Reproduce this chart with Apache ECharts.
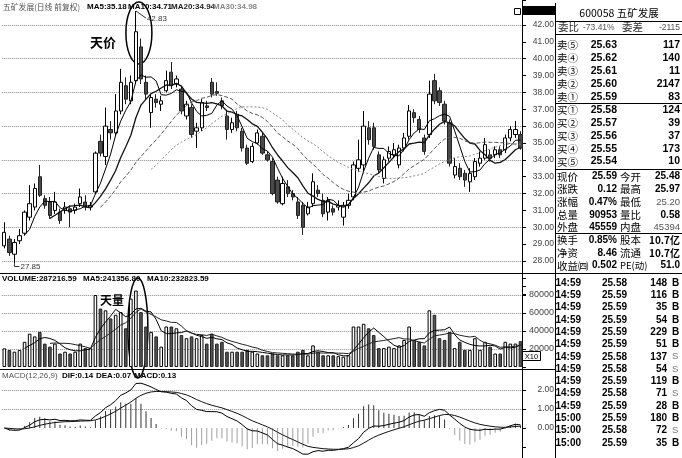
<!DOCTYPE html>
<html><head><meta charset="utf-8">
<script src="https://cdn.jsdelivr.net/npm/echarts@6/dist/echarts.min.js"></script>
<style>html,body{margin:0;padding:0;background:#fff}#c{width:682px;height:458px}</style>
</head><body><div id="c"></div>
<script>
// ---------- data ----------
const opens  = [28.9,29.3,28.4,29.2,29.65,30.6,31.2,33.0,31.7,31.5,31.0,30.9,31.0,31.1,31.0,31.4,31.5,31.2,32.1,35.1,34.2,35.8,35.6,36.9,38.4,37.5,38.7,40.7,38.6,36.8,37.6,37.3,38.1,39.2,38.5,38.2,36.6,37.1,35.7,35.9,37.2,38.6,38.05,37.5,36.6,35.8,36.7,35.7,34.7,33.9,35.0,35.4,34.3,33.9,32.8,31.4,32.4,32.0,31.5,31.3,30.8,31.4,32.2,31.6,30.9,31.1,31.2,30.6,31.3,31.8,33.5,33.7,35.9,35.9,34.3,32.9,34.1,34.3,33.7,34.7,35.4,36.8,36.4,35.3,35.5,38.7,38.1,37.3,36.2,33.1,33.5,33.2,32.7,33.0,33.8,34.1,34.3,34.3,34.6,34.6,35.3,35.5,35.5];
const closes = [29.7,28.5,29.1,29.5,30.9,31.4,32.3,31.9,31.3,30.7,31.5,30.4,31.2,30.9,31.2,31.8,31.2,31.3,34.4,34.4,36.0,35.6,36.9,38.6,37.6,38.6,41.6,38.8,37.9,37.7,37.4,37.5,38.7,38.4,38.8,36.9,37.3,35.5,35.9,37.4,37.1,37.9,37.95,37.2,35.8,36.2,35.9,34.7,33.8,34.8,35.6,34.4,34.0,32.0,31.5,32.6,32.0,31.8,30.7,30.0,31.2,32.7,32.0,30.8,31.6,30.9,31.3,31.3,31.6,33.7,34.0,36.0,35.2,34.8,33.4,34.0,34.5,34.6,34.7,35.3,36.9,36.5,35.8,34.5,37.9,37.5,37.4,36.3,33.8,33.6,33.0,32.8,33.2,33.9,34.1,34.9,34.1,34.6,34.3,35.3,35.8,35.8,34.7];
const highs  = [30.3,29.5,29.3,29.9,31.0,32.5,32.6,33.7,31.9,31.8,32.1,31.1,31.5,31.3,31.4,32.3,31.9,31.5,34.5,35.5,37.1,36.3,37.9,39.4,38.9,39.0,42.83,41.2,39.0,37.9,37.9,37.8,39.3,39.8,39.0,38.4,37.5,37.3,36.2,37.6,37.5,38.85,38.6,37.7,36.9,36.5,36.9,35.9,34.9,35.0,35.8,35.6,34.5,34.1,33.0,33.0,32.8,32.2,31.8,31.5,31.5,33.2,32.5,32.0,31.8,31.3,31.6,31.5,32.0,33.9,35.2,36.9,36.3,36.2,34.5,34.2,34.8,35.0,34.9,35.6,37.25,37.0,36.6,35.5,38.7,39.1,38.3,37.5,36.4,34.1,33.8,33.4,33.5,34.1,34.5,35.3,34.6,34.8,34.8,35.5,36.0,36.3,35.7];
const lows   = [28.75,28.3,27.85,29.0,29.5,30.4,31.0,31.8,31.1,30.5,30.8,30.2,30.8,30.0,30.8,31.2,31.0,31.0,32.0,34.2,33.7,35.2,35.4,36.7,37.3,37.3,38.5,38.5,37.6,35.9,37.1,36.9,38.0,38.2,38.3,36.7,36.4,35.3,34.7,35.7,36.9,37.7,37.8,37.0,35.2,35.6,35.7,34.5,33.7,33.8,34.9,34.3,33.9,31.9,31.4,31.3,31.8,31.6,30.5,29.55,30.7,31.2,31.8,30.6,30.4,30.7,31.0,30.1,31.1,31.6,33.3,33.2,34.9,34.6,33.2,32.6,33.9,34.1,33.5,34.5,35.2,36.2,35.6,34.3,35.3,37.3,37.2,36.1,33.6,32.9,32.8,32.4,32.1,32.8,33.6,34.0,33.9,34.1,34.1,34.4,35.1,35.3,34.6];
const volumes = [20700,18900,17000,18900,28000,37000,34000,39000,26000,22600,26000,15000,17000,15000,17000,26000,21000,21000,80000,65000,63000,54000,58000,61000,43000,76000,85000,61000,45000,39000,34000,22600,45000,45000,43000,35500,32000,34000,32000,35500,26000,37000,26000,28000,17000,17000,17000,17000,19000,17000,15000,13000,13000,15000,13000,13000,13000,13000,17000,19000,13000,24000,17000,13000,13000,13000,12000,11500,13000,45000,45000,48000,43000,35500,21000,21000,22600,21000,24000,30000,45000,30000,28000,24000,63000,58000,32000,30000,39000,21000,28000,19000,19000,32000,19000,28000,22600,15000,15000,28000,26000,26000,28700];
const priceTickLabels = [28,29,30,31,32,33,34,35,36,37,38,39,40,41,42];
const volTickLabels = [20000,40000,60000,80000];
const macdTickLabels = [0,1,2];
const macdTickMarks = [-1,0,1,2];

const headerMain = ['五矿发展(日线 前复权)','MA5:35.18','MA10:34.71','MA20:34.94','MA30:34.98'];
const headerVol = ['VOLUME:287216.59','MA5:241356.80','MA10:232823.59'];
const headerMacd = ['MACD(12,26,9)','DIF:0.14','DEA:0.07','MACD:0.13'];

const stockTitle = '600058 五矿发展';
const weibiRow = ['委比','-73.41%','委差','-2115'];
const orderLabels = ['卖⑤','卖④','卖③','卖②','卖①','买①','买②','买③','买④','买⑤'];
const orderPrices = ['25.63','25.62','25.61','25.60','25.59','25.58','25.57','25.56','25.55','25.54'];
const orderVols = ['117','140','11','2147','83','124','39','37','173','10'];
const statLabels1 = ['现价','涨跌','涨幅','总量','外盘','换手','净资','收益㈣'];
const statValues1 = ['25.59','0.12','0.47%','90953','45559','0.85%','8.46','0.502'];
const statLabels2 = ['今开','最高','最低','量比','内盘','股本','流通','PE(动)'];
const statValues2 = ['25.48','25.97','25.20','0.58','45394','10.7亿','10.7亿','51.0'];
const tickTimes = ['14:59','14:59','14:59','14:59','14:59','14:59','14:59','14:59','14:59','14:59','14:59','15:00','15:00','15:00'];
const tickPrices = ['25.58','25.59','25.59','25.59','25.59','25.59','25.58','25.58','25.59','25.58','25.59','25.59','25.58','25.59'];
const tickVols = ['148','116','35','54','229','51','137','54','119','71','28','180','72','35'];
const tickSides = ['B','B','B','B','B','B','S','S','B','S','B','B','S','B'];

// ---------- derived ----------
const categories = closes.map((_, i) => String(i + 1));
const isUp = closes.map((c, i) => c >= opens[i]);
function movingAverage(src, n) {
  return src.map((_, i) => {
    if (i < n - 1) return '-';
    let s = 0; for (let k = i - n + 1; k <= i; k++) s += src[k];
    return +(s / n).toFixed(3);
  });
}
function ema(src, n) {
  const k = 2 / (n + 1), out = [];
  src.forEach((v, i) => out.push(i === 0 ? v : out[i - 1] + k * (v - out[i - 1])));
  return out;
}
const ema12 = ema(closes, 12), ema26 = ema(closes, 26);
const dif = ema12.map((v, i) => +(v - ema26[i]).toFixed(4));
const dea = ema(dif, 9).map(v => +v.toFixed(4));
const macd = dif.map((v, i) => +(2 * (v - dea[i])).toFixed(4));

const FONT_NUM = '"Liberation Sans", Arial, sans-serif';
const FONT_CJK = '"Noto Sans CJK SC", "Noto Sans", sans-serif';
const GRAY_GRID = '#8a8a8a';
const T = 'rgba(0,0,0,0)';

const chart = echarts.init(document.getElementById('c'), null, {renderer: 'canvas', width: 682, height: 458});

const gridLeft = 1.8, gridRight = 159;
const priceSplitColors = [];
for (let v = 26; v <= 44; v++) priceSplitColors.push((v % 2 === 0 && v >= 28 && v <= 42) ? GRAY_GRID : T);

const axisLabelBase = {align: 'right', margin: 31, fontSize: 8.5, color: '#444', fontFamily: FONT_NUM};
const tickBase = {show: true, length: 3, lineStyle: {color: '#000'}};

const option = {
  animation: false,
  backgroundColor: '#fff',
  grid: [
    {left: gridLeft, right: gridRight, top: 0, height: 294.71},
    {left: gridLeft, right: gridRight, top: 286, height: 81},
    {left: gridLeft, right: gridRight, top: 380.5, height: 76}
  ],
  xAxis: [0, 1, 2].map(g => ({type: 'category', gridIndex: g, data: categories, boundaryGap: true, show: false})),
  yAxis: [
    {gridIndex: 0, type: 'value', position: 'right', min: 26, max: 43.483, interval: 1,
      axisLine: {show: false}, axisTick: tickBase,
      axisLabel: Object.assign({}, axisLabelBase, {formatter: v => priceTickLabels.indexOf(v) >= 0 ? v.toFixed(2) : ''}),
      splitLine: {show: true, lineStyle: {color: priceSplitColors, type: 'dotted', width: 1}}},
    {gridIndex: 1, type: 'value', position: 'right', min: 0, max: 90000, interval: 20000,
      axisLine: {show: false}, axisTick: tickBase,
      axisLabel: Object.assign({}, axisLabelBase, {fontSize: 9, formatter: v => volTickLabels.indexOf(v) >= 0 ? String(v) : ''}),
      splitLine: {show: true, showMaxLine: false, lineStyle: {color: [T, GRAY_GRID, GRAY_GRID, GRAY_GRID, GRAY_GRID, T], type: 'dotted', width: 1}}},
    {gridIndex: 2, type: 'value', position: 'right', min: -1.5, max: 2.5, interval: 0.5,
      axisLine: {show: false}, axisTick: {show: false},
      axisLabel: Object.assign({}, axisLabelBase, {formatter: v => macdTickLabels.indexOf(v) >= 0 ? v.toFixed(2) : ''}),
      splitLine: {show: true, lineStyle: {color: [T, T, T, T, T, GRAY_GRID, T, GRAY_GRID, T], type: 'dotted', width: 1}}}
  ],
  series: [
    {type: 'candlestick', name: 'K', xAxisIndex: 0, yAxisIndex: 0, barWidth: 3.8, silent: true,
      data: closes.map((c, i) => [opens[i], c, lows[i], highs[i]]),
      itemStyle: {color: '#ffffff', color0: '#4a4a4a', borderColor: '#000', borderColor0: '#222', borderWidth: 1}},
    {type: 'line', name: 'MA5', xAxisIndex: 0, yAxisIndex: 0, data: movingAverage(closes, 5), symbol: 'none', silent: true, lineStyle: {width: 1, color: '#000'}},
    {type: 'line', name: 'MA10', xAxisIndex: 0, yAxisIndex: 0, data: movingAverage(closes, 10), symbol: 'none', silent: true, lineStyle: {width: 1.3, color: '#111'}},
    {type: 'line', name: 'MA20', xAxisIndex: 0, yAxisIndex: 0, data: movingAverage(closes, 20), symbol: 'none', silent: true, lineStyle: {width: 1, color: '#555', type: [4, 2]}},
    {type: 'line', name: 'MA30', xAxisIndex: 0, yAxisIndex: 0, data: movingAverage(closes, 30), symbol: 'none', silent: true, lineStyle: {width: 1, color: '#888', type: [2, 2]}},
    {type: 'bar', name: 'VOL', xAxisIndex: 1, yAxisIndex: 1, barWidth: 3.6, silent: true,
      data: volumes.map((v, i) => ({value: v, itemStyle: isUp[i] ? {color: '#fff', borderColor: '#000', borderWidth: 1} : {color: '#555', borderColor: '#222', borderWidth: 1}}))},
    {type: 'line', name: 'VMA5', xAxisIndex: 1, yAxisIndex: 1, data: movingAverage(volumes, 5), symbol: 'none', silent: true, lineStyle: {width: 1, color: '#000'}},
    {type: 'line', name: 'VMA10', xAxisIndex: 1, yAxisIndex: 1, data: movingAverage(volumes, 10), symbol: 'none', silent: true, lineStyle: {width: 1, color: '#222'}},
    {type: 'bar', name: 'MACD', xAxisIndex: 2, yAxisIndex: 2, barWidth: 1, silent: true,
      data: macd.map(v => ({value: v, itemStyle: {color: v >= 0 ? '#333' : '#a0a0a0'}}))},
    {type: 'line', name: 'DIF', xAxisIndex: 2, yAxisIndex: 2, data: dif, symbol: 'none', silent: true, lineStyle: {width: 1, color: '#000'}},
    {type: 'line', name: 'DEA', xAxisIndex: 2, yAxisIndex: 2, data: dea, symbol: 'none', silent: true, lineStyle: {width: 1, color: '#111'}}
  ]
};
chart.setOption(option);

// ---------- decorations / texts ----------
function txt(x, y, text, font, fill, align) {
  return {type: 'text', x: x, y: y, silent: true, style: {text: text, font: font, fill: fill || '#000', align: align || 'left', verticalAlign: 'middle'}};
}
function line(x1, y1, x2, y2, w, c) {
  return {type: 'line', silent: true, shape: {x1: x1, y1: y1, x2: x2, y2: y2}, style: {stroke: c || '#000', lineWidth: w || 1}};
}
const g = [];
// frame
g.push(line(522.5, 0, 522.5, 458, 1));
g.push(line(555.5, 3, 555.5, 458, 1));
g.push(line(0, 273.5, 682, 273.5, 1.2));
g.push(line(0, 369.5, 555.5, 369.5, 1));
[21.5, 34.5, 103.5, 169.5, 233.5].forEach(y => g.push(line(555.5, y, 682, y, 1)));
g.push({type: 'rect', silent: true, shape: {x: 523, y: 6, width: 32, height: 9}, style: {fill: '#000'}});
g.push({type: 'rect', silent: true, shape: {x: 514.5, y: 8.5, width: 6, height: 6}, style: {fill: '#fff', stroke: '#000', lineWidth: 1}});
g.push({type: 'rect', silent: true, shape: {x: 522.5, y: 351.5, width: 18, height: 9}, style: {fill: '#fff', stroke: '#000', lineWidth: 1}});
g.push(txt(531.5, 356.5, 'X10', '7.5px ' + FONT_NUM, '#000', 'center'));
macdTickMarks.forEach(v => {
  const p = chart.convertToPixel({yAxisIndex: 2}, v);
  g.push(line(523, Math.round(p) + 0.5, 526, Math.round(p) + 0.5, 1));
});

// headers
const hdrX = [3, 87, 128, 171, 213];
const hdrFill = ['#555', '#000', '#000', '#222', '#888'];
headerMain.forEach((t, i) => g.push(txt(hdrX[i], 7, t, (i === 0 ? '7.8px ' + FONT_CJK : 'bold 8px ' + FONT_NUM), hdrFill[i])));
const vhX = [2, 83, 147];
headerVol.forEach((t, i) => g.push(txt(vhX[i], 279, t, 'bold 8px ' + FONT_NUM, '#000')));
const mhX = [2, 62, 96, 134];
headerMacd.forEach((t, i) => g.push(txt(mhX[i], 376, t, (i === 0 ? '8px ' : 'bold 8px ') + FONT_NUM, i === 0 ? '#555' : '#000')));

// right table
g.push(txt(619, 13, stockTitle, '10.5px ' + FONT_CJK, '#000', 'center'));
g.push(txt(558, 27.5, weibiRow[0], '10.5px ' + FONT_CJK, '#333'));
g.push(txt(583, 27.5, weibiRow[1], '8.5px ' + FONT_NUM, '#555'));
g.push(txt(622, 27.5, weibiRow[2], '10.5px ' + FONT_CJK, '#333'));
g.push(txt(680, 27.5, weibiRow[3], '8.5px ' + FONT_NUM, '#555', 'right'));
const orderY = [45.5, 58.4, 71.3, 84.2, 97.1, 110, 122.9, 135.8, 148.7, 161.6];
orderLabels.forEach((t, i) => {
  g.push(txt(557, orderY[i], t, '10.5px ' + FONT_CJK, '#000'));
  g.push(txt(617, orderY[i], orderPrices[i], 'bold 10.5px ' + FONT_NUM, '#000', 'right'));
  g.push(txt(680, orderY[i], orderVols[i], 'bold 10.5px ' + FONT_NUM, '#000', 'right'));
});
const lightStat2 = {2: true, 4: true};
statLabels1.forEach((t, i) => {
  const y = 176.7 + 12.7 * i;
  g.push(txt(557, y, t, '10.5px ' + FONT_CJK, '#000'));
  g.push(txt(617, y, statValues1[i], 'bold 10px ' + FONT_NUM, '#000', 'right'));
  g.push(txt(620, y, statLabels2[i], (i === 7 ? '9.5px ' : '10.5px ') + FONT_CJK, '#000'));
  g.push(txt(680, y, statValues2[i], (lightStat2[i] ? '9.5px ' : 'bold 10px ') + (statValues2[i].indexOf('亿') >= 0 ? FONT_CJK : FONT_NUM), lightStat2[i] ? '#555' : '#000', 'right'));
});
tickTimes.forEach((t, i) => {
  const y = 283 + 12.3 * i;
  g.push(txt(555.5, y, t, 'bold 10px ' + FONT_NUM, '#000'));
  g.push(txt(627, y, tickPrices[i], 'bold 10px ' + FONT_NUM, '#000', 'right'));
  g.push(txt(667, y, tickVols[i], 'bold 10px ' + FONT_NUM, '#000', 'right'));
  g.push(txt(672, y, tickSides[i], tickSides[i] === 'B' ? 'bold 10px ' + FONT_NUM : '9.5px ' + FONT_NUM, tickSides[i] === 'B' ? '#000' : '#777'));
});

// annotations tied to data
const peakIdx = highs.indexOf(Math.max.apply(null, highs));
const lowIdx = lows.indexOf(Math.min.apply(null, lows));
const volIdx = volumes.indexOf(Math.max.apply(null, volumes));
const pk = chart.convertToPixel({xAxisIndex: 0, yAxisIndex: 0}, [peakIdx, highs[peakIdx]]);
const lw = chart.convertToPixel({xAxisIndex: 0, yAxisIndex: 0}, [lowIdx, lows[lowIdx]]);
const vx = chart.convertToPixel({xAxisIndex: 1, yAxisIndex: 1}, [volIdx, 0]);
g.push(line(pk[0], pk[1], pk[0] + 10, pk[1] + 7, 1, '#333'));
g.push(txt(pk[0] + 11, pk[1] + 8, highs[peakIdx].toFixed(2), '8px ' + FONT_NUM, '#333'));
g.push(line(lw[0], lw[1], lw[0], lw[1] + 3, 1, '#333'));
g.push(line(lw[0], lw[1] + 3, lw[0] + 5, lw[1] + 3, 1, '#333'));
g.push(txt(lw[0] + 6, lw[1] + 3, lows[lowIdx].toFixed(2), '8px ' + FONT_NUM, '#333'));
g.push({type: 'ellipse', silent: true, shape: {cx: pk[0] + 3, cy: 33, rx: 13, ry: 31}, style: {fill: 'none', stroke: '#000', lineWidth: 1.5}});
g.push(txt(pk[0] - 20, 42, '天价', 'bold 13px ' + FONT_CJK, '#000', 'right'));
g.push({type: 'ellipse', silent: true, shape: {cx: vx[0] + 2, cy: 328, rx: 10, ry: 50}, style: {fill: 'none', stroke: '#000', lineWidth: 1.5}});
g.push(txt(vx[0] - 12, 300, '天量', 'bold 12px ' + FONT_CJK, '#000', 'right'));

chart.setOption({graphic: {elements: g}});
</script>
</body></html>
